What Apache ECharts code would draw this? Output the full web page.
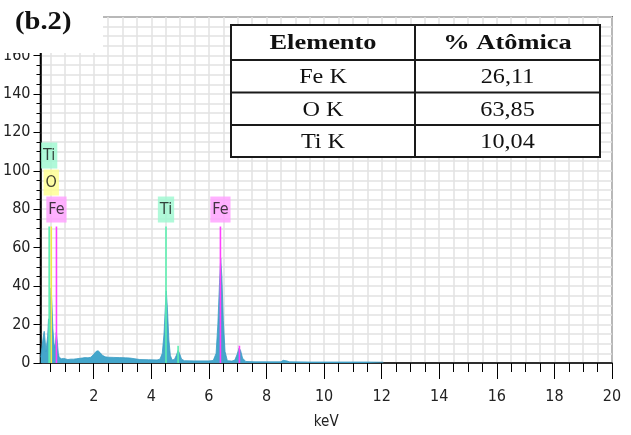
<!DOCTYPE html>
<html>
<head>
<meta charset="utf-8">
<script src="https://cdn.jsdelivr.net/npm/echarts@6.0.0/dist/echarts.min.js"></script>
<style>
  html, body { margin: 0; padding: 0; background: #fff; }
  #chart { width: 631px; height: 435px; }
</style>
</head>
<body>
<div id="chart"></div>
<script>
// EDS spectrum: energy (keV) and counts
const energy = [
  0.16, 0.20, 0.25, 0.28, 0.31, 0.34, 0.37, 0.40, 0.43, 0.46, 0.49, 0.52, 0.55, 0.58,
  0.62, 0.66, 0.70, 0.73, 0.77, 0.80, 0.84, 0.88, 0.92, 0.96, 1.00, 1.10, 1.20, 1.30,
  1.40, 1.45, 1.60, 1.70, 1.80, 1.90, 2.00, 2.08, 2.15, 2.22, 2.30, 2.40, 2.50, 2.70,
  2.90, 3.10, 3.25, 3.30, 3.60, 3.90, 4.20, 4.30, 4.38, 4.44, 4.49, 4.52, 4.56, 4.61,
  4.66, 4.72, 4.80, 4.87, 4.93, 4.98, 5.05, 5.15, 5.50, 6.00, 6.15, 6.25, 6.31, 6.37,
  6.41, 6.45, 6.50, 6.56, 6.64, 6.80, 6.90, 6.98, 7.05, 7.10, 7.17, 7.28, 7.60, 8.00,
  8.50, 8.58, 8.64, 8.72, 8.80, 9.50, 10.50, 11.50, 12.06
];
const counts = [
  3.0, 8.0, 14.0, 16.5, 12.0, 6.0, 5.0, 14.0, 23.0, 20.0, 30.0, 39.0, 30.0, 18.0,
  10.0, 8.0, 16.0, 12.0, 5.0, 3.0, 2.0, 2.2, 2.8, 2.4, 1.8, 1.8, 2.0, 2.0,
  2.2, 2.6, 2.6, 2.8, 2.7, 3.0, 4.5, 6.0, 6.4, 5.4, 4.0, 3.2, 3.0, 2.9,
  2.8, 2.7, 2.6, 1.9, 1.8, 1.7, 1.6, 2.0, 5.0, 15.0, 30.0, 37.5, 28.0, 12.0,
  4.0, 1.6, 1.8, 4.0, 6.5, 5.0, 2.0, 1.2, 1.1, 1.1, 1.3, 5.0, 20.0, 42.0,
  54.5, 45.0, 22.0, 6.0, 1.2, 1.0, 1.5, 4.5, 7.8, 6.5, 2.5, 0.8, 0.6, 0.6,
  0.6, 1.4, 1.9, 1.0, 0.6, 0.5, 0.5, 0.5, 0.4
];

// Characteristic line markers
const lineElements = ['Ti', 'O', 'Fe', 'Ti', 'Ti', 'Fe', 'Fe'];
const lineEnergy   = [0.452, 0.525, 0.705, 4.51, 4.93, 6.40, 7.06];
const lineHeight   = [71, 71, 71, 71, 9, 71, 9];

// Element tags shown above the main lines
const tagElements = ['Ti', 'O', 'Fe', 'Ti', 'Fe'];
const tagEnergy   = [0.452, 0.525, 0.705, 4.51, 6.40];

// Axis ticks
const xTickLabels = [2, 4, 6, 8, 10, 12, 14, 16, 18, 20];
const yTickLabels = [0, 20, 40, 60, 80, 100, 120, 140, 160];

// Quantification table
const tableHeader  = ['Elemento', '% Atômica'];
const tableElement = ['Fe K', 'O K', 'Ti K'];
const tableAtomic  = ['26,11', '63,85', '10,04'];

const palette = {
  Ti: { line: '#5cefb0', tag: '#9cf7cf' },
  O:  { line: '#ecec48', tag: '#ffff8e' },
  Fe: { line: '#ff40ff', tag: '#ff9eff' }
};

const axisFont = '"DejaVu Sans Condensed", "Liberation Sans Narrow", sans-serif';
const xMin = 0.15, xMax = 20;

// minor ticks every 0.5 keV
const xMinorTicks = [];
for (let v = 0.5; v <= xMax + 1e-9; v += 0.5) xMinorTicks.push(+v.toFixed(1));

// stack tags that sit close together
const tagTier = tagEnergy.map((e, i) =>
  tagEnergy.filter((o, j) => j !== i && o > e && o - e < 0.35).length);

const chart = echarts.init(document.getElementById('chart'), null, { renderer: 'canvas' });

const gridColor = '#e2e2e2';

// table layout
const tbl = { x0: 231, x1: 600, xMid: 415, y: [25, 60, 92.5, 125, 157] };
const tableGraphics = [];
tableGraphics.push({
  type: 'rect', shape: { x: tbl.x0, y: tbl.y[0], width: tbl.x1 - tbl.x0, height: tbl.y[4] - tbl.y[0] },
  style: { fill: '#fff', stroke: '#1a1a1a', lineWidth: 2 }, z: 100
});
tableGraphics.push({
  type: 'line', shape: { x1: tbl.xMid, y1: tbl.y[0], x2: tbl.xMid, y2: tbl.y[4] },
  style: { stroke: '#1a1a1a', lineWidth: 2 }, z: 101
});
for (let r = 1; r < 4; r++) {
  tableGraphics.push({
    type: 'line', shape: { x1: tbl.x0, y1: tbl.y[r], x2: tbl.x1, y2: tbl.y[r] },
    style: { stroke: '#1a1a1a', lineWidth: 2 }, z: 101
  });
}
const colCenters = [(tbl.x0 + tbl.xMid) / 2, (tbl.xMid + tbl.x1) / 2];
const cellText = (txt, col, row, bold) => ({
  type: 'text', x: colCenters[col], y: (tbl.y[row] + tbl.y[row + 1]) / 2 + 1,
  scaleX: bold ? 1.2 : 1.1,
  style: {
    text: txt, fill: '#111',
    font: (bold ? 'bold 22px ' : '22px ') + '"Liberation Serif", "DejaVu Serif", serif',
    align: 'center', verticalAlign: 'middle'
  }, z: 102
});
tableHeader.forEach((h, c) => tableGraphics.push(cellText(h, c, 0, true)));
tableElement.forEach((t, r) => {
  tableGraphics.push(cellText(t, 0, r + 1, false));
  tableGraphics.push(cellText(tableAtomic[r], 1, r + 1, false));
});

const option = {
  animation: false,
  backgroundColor: '#fff',
  grid: {
    left: 40, right: 19, top: 17, bottom: 70,
    show: true, borderColor: '#000', borderWidth: 1.5, backgroundColor: 'transparent'
  },
  xAxis: [
    {
      type: 'value', min: xMin, max: xMax, position: 'bottom',
      name: 'keV', nameLocation: 'middle', nameGap: 52,
      nameTextStyle: { fontFamily: axisFont, fontSize: 15, color: '#222' },
      axisLine: { show: true, lineStyle: { color: '#000', width: 1.5 } },
      axisTick: { show: true, customValues: xMinorTicks, length: 9, lineStyle: { color: '#000', width: 1 } },
      axisLabel: { show: false },
      splitLine: { show: true, lineStyle: { color: gridColor, width: 1.5 } }
    },
    {
      type: 'value', min: xMin, max: xMax, position: 'bottom',
      axisLine: { show: false },
      axisTick: { show: true, customValues: xTickLabels, length: 16, lineStyle: { color: '#000', width: 1 } },
      axisLabel: {
        show: true, customValues: xTickLabels, margin: 26,
        fontFamily: axisFont, fontSize: 16, color: '#222'
      },
      splitLine: { show: false }
    }
  ],
  yAxis: {
    type: 'value', min: 0, max: 180, interval: 20,
    axisLine: { show: true, lineStyle: { color: '#000', width: 1.5 } },
    axisTick: { show: true, length: 7, lineStyle: { color: '#000', width: 1 } },
    minorTick: { show: true, splitNumber: 4, length: 4, lineStyle: { color: '#000', width: 1 } },
    axisLabel: {
      margin: 10, fontFamily: axisFont, fontSize: 16, color: '#222',
      formatter: v => (yTickLabels.indexOf(v) >= 0 || v === 180) ? String(v) : ''
    },
    splitLine: { show: true, lineStyle: { color: gridColor, width: 1.5 } },
    minorSplitLine: { show: true, lineStyle: { color: gridColor, width: 1.5 } }
  },
  series: [
    {
      name: 'spectrum', type: 'line', xAxisIndex: 0,
      data: energy.map((e, i) => [e, counts[i]]),
      showSymbol: false, symbol: 'none',
      lineStyle: { color: '#3a9cc4', width: 0.8 },
      areaStyle: { color: '#44a6cb', opacity: 1 },
      z: 2
    },
    {
      name: 'lines', type: 'custom', xAxisIndex: 0,
      data: lineEnergy.map((e, i) => [e, lineHeight[i], i]),
      renderItem: (params, api) => {
        const e = api.value(0), h = api.value(1), idx = api.value(2);
        const p0 = api.coord([e, 0]);
        const p1 = api.coord([e, h]);
        return {
          type: 'line',
          shape: { x1: p0[0], y1: p0[1], x2: p1[0], y2: p1[1] },
          style: { stroke: palette[lineElements[idx]].line, lineWidth: 1.6 }
        };
      },
      z: 3
    },
    {
      name: 'tags', type: 'scatter', xAxisIndex: 0,
      symbolSize: 1, itemStyle: { color: 'transparent' },
      data: tagEnergy.map((e, i) => ({
        value: [e, 71],
        label: {
          show: true, position: 'inside', formatter: tagElements[i],
          offset: [0, -(17 + tagTier[i] * 27)],
          backgroundColor: palette[tagElements[i]].tag,
          padding: [5, 2, 4, 2], lineHeight: 17,
          fontFamily: axisFont, fontSize: 16, color: '#111'
        }
      })),
      z: 4
    }
  ],
  graphic: [
    {
      type: 'rect', shape: { x: 0, y: 0, width: 103, height: 53 },
      style: { fill: '#fff' }, z: 100
    },
    {
      type: 'text', x: 15, y: 22, scaleX: 1.1,
      style: {
        text: '(b.2)', fill: '#111',
        font: 'bold 26px "Liberation Serif", "DejaVu Serif", serif',
        align: 'left', verticalAlign: 'middle'
      }, z: 101
    },
    ...tableGraphics
  ]
};

chart.setOption(option);
</script>
</body>
</html>
